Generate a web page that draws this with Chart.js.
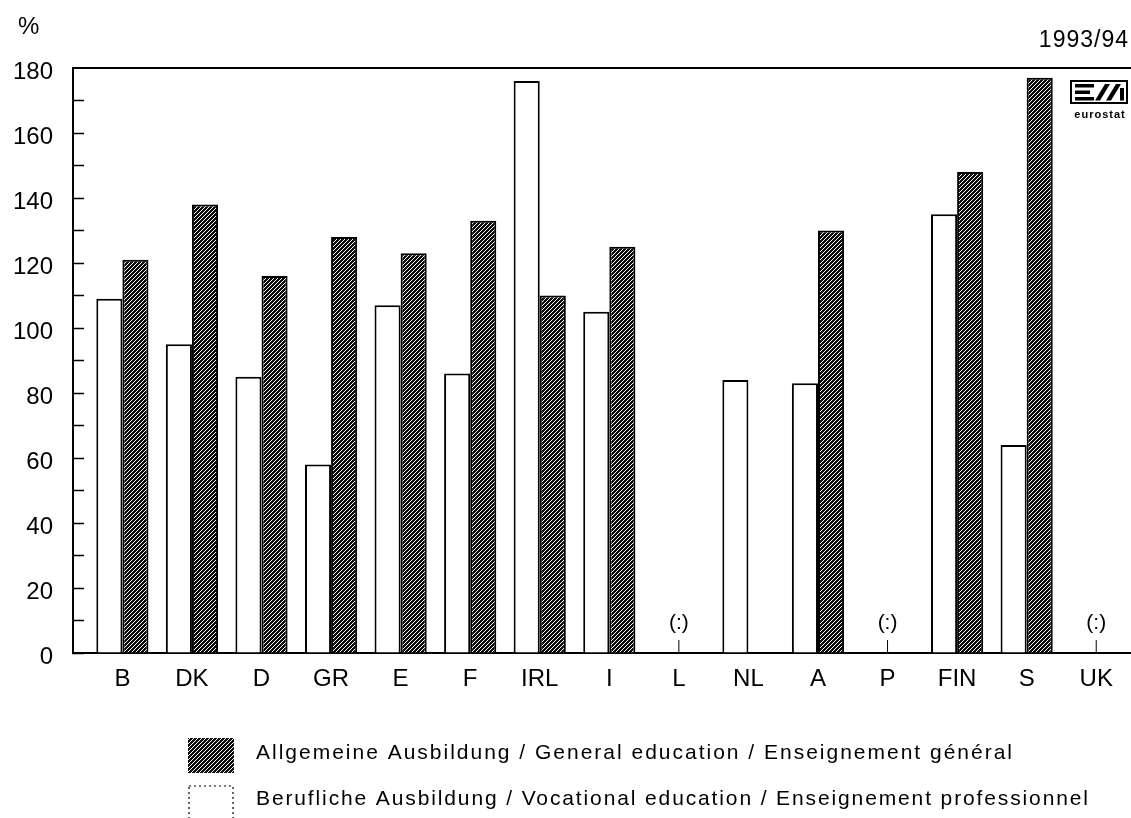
<!DOCTYPE html>
<html>
<head>
<meta charset="utf-8">
<title>Allgemeine / Berufliche Ausbildung 1993/94</title>
<script src="https://cdn.jsdelivr.net/npm/chart.js@4.4.1/dist/chart.umd.min.js"></script>
<style>
  html, body { margin: 0; padding: 0; background: #fff; }
  #wrap { width: 1131px; height: 818px; position: relative; }
</style>
</head>
<body>
<div id="wrap"><canvas id="eduChart" width="1131" height="818"></canvas></div>
<script>
// values (%), null = not available / no bar
const countries = ['B', 'DK', 'D', 'GR', 'E', 'F', 'IRL', 'I', 'L', 'NL', 'A', 'P', 'FIN', 'S', 'UK'];
const vocational = [109, 95, 85, 58, 107, 86, 176, 105, null, 84, 83, null, 135, 64, null];
const general = [121, 138, 116, 128, 123, 133, 110, 125, null, null, 130, null, 148, 177, null];
const notAvailable = ['L', 'P', 'UK'];
const yMax = 180;
const yStep = 10;
const legendLabels = [
    'Allgemeine Ausbildung / General education / Enseignement général',
    'Berufliche Ausbildung / Vocational education / Enseignement professionnel'
];
const unitLabel = '%';
const periodLabel = '1993/94';

const FONT = '"Liberation Sans", Arial, Helvetica, sans-serif';

function makeHatch() {
    let tile = document.createElement('canvas');
    tile.width = 4;
    tile.height = 4;
    let g = tile.getContext('2d');
    g.fillStyle = '#0c0c0c';
    g.fillRect(0, 0, 4, 4);
    g.strokeStyle = '#fff';
    g.lineWidth = 1.0;
    g.beginPath();
    g.moveTo(-1, 5); g.lineTo(5, -1);
    g.moveTo(-1, 1); g.lineTo(1, -1);
    g.moveTo(3, 5); g.lineTo(5, 3);
    g.stroke();
    return document.createElement('canvas').getContext('2d').createPattern(tile, 'repeat');
}

const hatch = makeHatch();

function spacedText(ctx, text, x, y, targetWidth) {
    ctx.letterSpacing = '0px';
    let w = ctx.measureText(text).width;
    let sp = Math.max(0, (targetWidth - w) / (text.length - 1));
    ctx.letterSpacing = sp + 'px';
    ctx.fillText(text, x, y);
    ctx.letterSpacing = '0px';
}

// frame texts, logo, "(:)" marks and legend
const decorations = {
    id: 'decorations',
    afterDraw(chart) {
        const ctx = chart.ctx;
        const xs = chart.scales.x;
        const ys = chart.scales.y;
        const base = ys.getPixelForValue(0);
        ctx.save();
        ctx.fillStyle = '#000';
        ctx.strokeStyle = '#000';

        ctx.font = '24px ' + FONT;
        ctx.textBaseline = 'middle';
        ctx.textAlign = 'left';
        ctx.fillText(unitLabel, 18, 27);
        ctx.font = '23px ' + FONT;
        ctx.textAlign = 'right';
        ctx.letterSpacing = '1px';
        ctx.fillText(periodLabel, 1129, 41);
        ctx.letterSpacing = '0px';

        // eurostat logo
        ctx.lineWidth = 2;
        ctx.strokeRect(1071, 81, 56, 22);
        ctx.fillRect(1075, 84, 19, 3.5);
        ctx.fillRect(1075, 90.5, 15, 3.5);
        ctx.fillRect(1075, 97, 19, 3.5);
        ctx.beginPath();
        ctx.moveTo(1095, 100.5); ctx.lineTo(1100, 100.5); ctx.lineTo(1110, 84); ctx.lineTo(1105, 84);
        ctx.closePath();
        ctx.fill();
        ctx.beginPath();
        ctx.moveTo(1106, 100.5); ctx.lineTo(1111, 100.5); ctx.lineTo(1121, 84); ctx.lineTo(1116, 84);
        ctx.closePath();
        ctx.fill();
        ctx.fillRect(1120, 88, 4, 12.5);
        ctx.font = 'bold 11px ' + FONT;
        ctx.textAlign = 'center';
        ctx.letterSpacing = '1px';
        ctx.fillText('eurostat', 1100, 115);
        ctx.letterSpacing = '0px';

        // not available markers
        ctx.font = '21px ' + FONT;
        ctx.textAlign = 'center';
        ctx.lineWidth = 1;
        notAvailable.forEach(function (c) {
            let px = xs.getPixelForValue(countries.indexOf(c));
            ctx.fillText('(:)', px, base - 30);
            ctx.beginPath();
            ctx.moveTo(px, base - 13);
            ctx.lineTo(px, base);
            ctx.stroke();
        });

        // legend
        ctx.fillStyle = hatch;
        ctx.fillRect(188, 738, 46, 35);
        ctx.setLineDash([2, 3]);
        ctx.lineWidth = 1.2;
        ctx.strokeRect(189, 786, 44, 40);
        ctx.setLineDash([]);
        ctx.fillStyle = '#000';
        ctx.font = '21px ' + FONT;
        ctx.textAlign = 'left';
        ctx.textBaseline = 'middle';
        spacedText(ctx, legendLabels[0], 256, 753, 756);
        spacedText(ctx, legendLabels[1], 256, 799, 832);
        ctx.restore();
    }
};

document.addEventListener('DOMContentLoaded', function () {
    let ctx = document.getElementById('eduChart').getContext('2d');
    let eduChart = new Chart(ctx, {
        type: 'bar',
        data: {
            datasets: [{
                label: legendLabels[1],
                data: vocational.map((v, i) => ({ x: i, y: v })),
                backgroundColor: '#fff',
                borderColor: '#000',
                borderWidth: 2
            }, {
                label: legendLabels[0],
                data: general.map((v, i) => ({ x: i, y: v })),
                backgroundColor: hatch,
                borderColor: '#000',
                borderWidth: 2
            }]
        },
        options: {
            responsive: false,
            animation: false,
            devicePixelRatio: 1,
            categoryPercentage: 0.75,
            barPercentage: 1.0,
            layout: { padding: { top: 68, right: 0, left: 0, bottom: 0 } },
            plugins: {
                legend: { display: false },
                tooltip: { enabled: false }
            },
            scales: {
                x: {
                    type: 'linear',
                    bounds: 'data',
                    offset: false,
                    min: -0.71,
                    max: 14.5,
                    grid: { display: false, offset: false },
                    border: { color: '#000', width: 2 },
                    ticks: {
                        autoSkip: false,
                        maxRotation: 0,
                        padding: 4,
                        color: '#000',
                        font: { family: FONT, size: 24 },
                        callback: (v) => countries[v] !== undefined ? countries[v] : ''
                    },
                    afterBuildTicks: (scale) => {
                        scale.ticks = countries.map((c, i) => ({ value: i }));
                    },
                    afterFit: (scale) => { scale.height = 818 - 653; }
                },
                y: {
                    min: 0,
                    max: yMax,
                    grid: {
                        drawTicks: true,
                        tickLength: -11,
                        color: (c) => c.tick && c.tick.value === yMax ? '#000' : 'rgba(0,0,0,0)',
                        lineWidth: (c) => c.tick && c.tick.value === yMax ? 2 : 1,
                        tickColor: '#000',
                        tickWidth: 1.5
                    },
                    border: { color: '#000', width: 2 },
                    ticks: {
                        stepSize: yStep,
                        autoSkip: false,
                        padding: 31,
                        labelOffset: 4,
                        color: '#000',
                        font: { family: FONT, size: 24 },
                        callback: (v) => v % 20 === 0 ? v : ''
                    },
                    afterFit: (scale) => { scale.width = 73; }
                }
            }
        },
        plugins: [decorations]
    });
});
</script>
</body>
</html>
